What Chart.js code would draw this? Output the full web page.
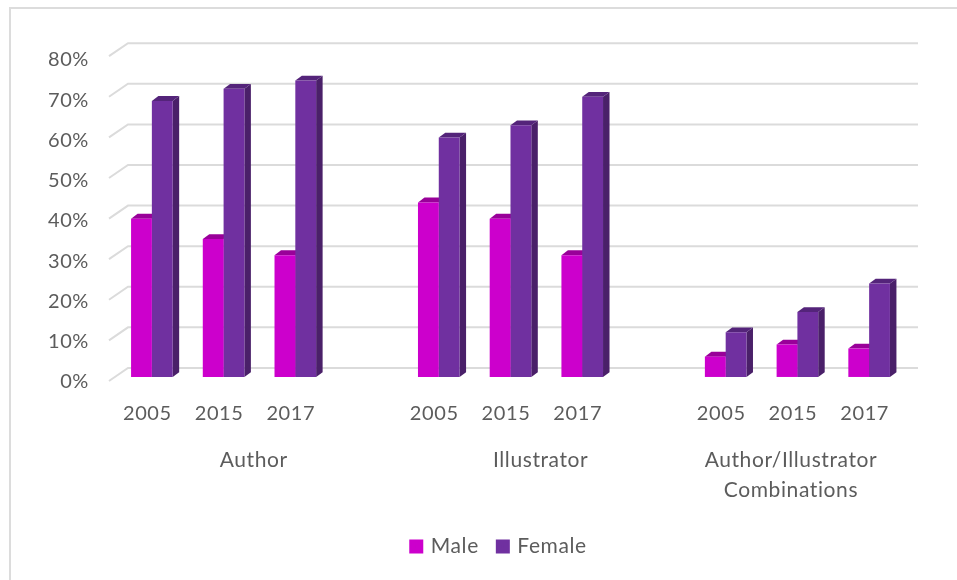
<!DOCTYPE html>
<html>
<head>
<meta charset="utf-8">
<style>
html,body{margin:0;padding:0;background:#fff;}
#wrap{position:relative;width:957px;height:580px;overflow:hidden;}
#frame{position:absolute;left:9px;top:7px;right:-5px;bottom:-5px;border:2.5px solid #dcdcdc;box-sizing:border-box;}
canvas{position:absolute;left:0;top:0;filter:blur(0.45px);}
</style>
<script src="https://cdn.jsdelivr.net/npm/chart.js@4"></script>
</head>
<body>
<div id="wrap"><div id="frame"></div><canvas id="c" width="957" height="580"></canvas></div>
<script>
const years = ['2005','2015','2017','','2005','2015','2017','','2005','2015','2017'];
const male = [39,34,30,null,43,39,30,null,5,8,7];
const female = [68,71,73,null,59,62,69,null,11,16,23];
const groupLabels = ['Author','Illustrator',['Author/Illustrator','Combinations']];
const groupSlots = [1.42,5.42,8.91];
const yTickValues = [0,10,20,30,40,50,60,70,80];

const INK = '#5c5c5c', GRID = '#dbdbdb';
const FONT = {family:'Lato', size:20};

const chart3d = {
  id:'chart3d',
  afterLayout(chart){ chart.legend.left += 88; chart.legend.right += 0; },
  beforeDraw(chart){ chart.ctx.letterSpacing = '0.6px'; },
  beforeDatasetsDraw(chart){
    const {ctx, chartArea:a, scales:{y}} = chart;
    ctx.save();
    ctx.strokeStyle = GRID; ctx.lineWidth = 2;
    yTickValues.forEach(v=>{
      const py = y.getPixelForValue(v);
      ctx.beginPath();
      ctx.moveTo(a.left-7, py+4);
      ctx.lineTo(a.left+12, py-9);
      ctx.lineTo(a.right+13, py-9);
      ctx.stroke();
    });
    const dx = 6.5, dy = -4.8;
    chart.data.datasets.forEach((ds,k)=>{
      chart.getDatasetMeta(k).data.forEach((b,i)=>{
        if(ds.data[i]===null) return;
        const l=b.x-b.width/2, r=b.x+b.width/2, t=b.y, bt=b.base;
        ctx.fillStyle = ds.sideColor;
        ctx.beginPath();
        ctx.moveTo(r,t);ctx.lineTo(r+dx,t+dy);ctx.lineTo(r+dx,bt+dy);ctx.lineTo(r,bt);ctx.closePath();ctx.fill();
        ctx.fillStyle = ds.topColor;
        ctx.beginPath();
        ctx.moveTo(l,t);ctx.lineTo(l+dx,t+dy);ctx.lineTo(r+dx,t+dy);ctx.lineTo(r,t);ctx.closePath();ctx.fill();
      });
    });
    ctx.restore();
  }
};

new Chart(document.getElementById('c'),{
  type:'bar',
  data:{labels:years,datasets:[
    {label:'Male',data:male,backgroundColor:'#cc00cc',topColor:'#990099',sideColor:'#800080',xAxisID:'x',yAxisID:'y'},
    {label:'Female',data:female,backgroundColor:'#7030a0',topColor:'#54247a',sideColor:'#4a2069',xAxisID:'x',yAxisID:'y'}
  ]},
  plugins:[chart3d],
  options:{
    responsive:false,animation:false,
    layout:{padding:{left:0,right:52,top:40,bottom:13}},
    datasets:{bar:{categoryPercentage:0.58,barPercentage:1,borderWidth:0}},
    plugins:{
      tooltip:{enabled:false},
      legend:{position:'bottom',align:'center',
        labels:{boxWidth:8,boxHeight:8,padding:20,color:INK,font:{family:'Lato',size:21},
          generateLabels(chart){
            return chart.data.datasets.map((d,i)=>({text:d.label,fillStyle:d.backgroundColor,strokeStyle:d.backgroundColor,lineWidth:6,fontColor:INK,datasetIndex:i,hidden:false}));
          }}}
    },
    scales:{
      x:{type:'category',position:'bottom',offset:true,
        grid:{display:false,drawTicks:false},border:{display:false},
        ticks:{color:INK,font:FONT,padding:13,labelOffset:-4.5,maxRotation:0,autoSkip:false}},
      xGroups:{type:'linear',position:'bottom',offset:false,min:-0.5,max:10.5,
        grid:{display:false,drawTicks:false},border:{display:false},
        afterBuildTicks(s){ s.ticks = groupSlots.map(v=>({value:v})); },
        afterFit(s){ s.height += 5; },
        ticks:{color:INK,font:{family:'Lato',size:21,lineHeight:1.43},padding:6,maxRotation:0,autoSkip:false,
          callback:(v,i)=>groupLabels[i]}},
      y:{type:'linear',display:false,position:'left',min:-2.95,max:83.0},
      yLabels:{type:'linear',position:'left',min:-1.73,max:84.95,
        grid:{display:false,drawTicks:false},border:{display:false},
        afterBuildTicks(s){ s.ticks = yTickValues.map(v=>({value:v})); },
        afterFit(s){ s.width = 116; },
        ticks:{color:INK,font:FONT,padding:27,callback:v=>v+'%'}}
    }
  }
});
</script>
</body>
</html>
